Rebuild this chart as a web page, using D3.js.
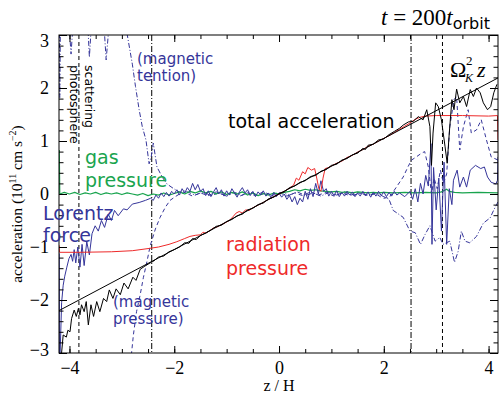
<!DOCTYPE html>
<html><head><meta charset="utf-8">
<script src="https://cdn.jsdelivr.net/npm/d3@7"></script>
<style>body{margin:0;background:#fff}svg{display:block}</style>
</head><body>
<svg id="c" width="499" height="393"></svg>
<script>
// ---------- data (z/H, acceleration in 1e11 cm s^-2) ----------
const xMajorTicks = [-4, -2, 0, 2, 4];
const yMajorTicks = [-3, -2, -1, 0, 1, 2, 3];
const photosphereZ = [-3.82, 3.12];   // scattering photosphere (dashed)
const tensionMarkZ = [-2.43, 2.52];   // dash-dot markers

const omegaLine = [[-4.2, -2.2], [4.18, 2.19]];

const totalAcc = [
[-4.16,-3.1],[-4.12,-2.66],[-4.06,-2.70],[-4.03,-2.57],[-3.99,-2.60],[-3.96,-2.35],[-3.91,-2.19],[-3.87,-2.31],[-3.83,-2.16],[-3.80,-2.28],[-3.77,-2.09],[-3.72,-2.22],[-3.68,-2.03],[-3.64,-2.47],[-3.59,-2.09],[-3.54,-2.31],[-3.48,-2.03],[-3.42,-2.22],[-3.35,-1.97],[-3.29,-2.03],[-3.24,-1.81],[-3.17,-1.97],[-3.11,-1.79],[-3.03,-1.90],[-2.96,-1.68],[-2.88,-1.79],[-2.79,-1.57],[-2.73,-1.63],[-2.65,-1.42],[-2.56,-1.36],[-2.46,-1.30],
[-2.4,-1.27],[-2.3,-1.19],[-2.2,-1.17],[-2.1,-1.09],[-2.0,-1.05],[-1.9,-1.0],[-1.8,-0.92],[-1.72,-0.93],[-1.65,-0.84],[-1.58,-0.86],[-1.5,-0.78],[-1.4,-0.74],[-1.3,-0.68],[-1.2,-0.61],[-1.1,-0.59],[-1.0,-0.52],[-0.9,-0.48],[-0.8,-0.41],[-0.7,-0.38],[-0.6,-0.30],[-0.5,-0.27],[-0.4,-0.2],[-0.3,-0.17],[-0.2,-0.09],[-0.1,-0.06],[0,0.01],[0.1,0.04],[0.2,0.12],[0.3,0.15],[0.4,0.22],[0.5,0.25],[0.6,0.33],[0.7,0.35],[0.8,0.43],[0.9,0.46],[1.0,0.54],[1.1,0.56],[1.2,0.64],[1.3,0.67],[1.4,0.74],[1.5,0.77],[1.6,0.86],[1.65,0.84],[1.7,0.92],[1.8,0.94],[1.9,1.02],[2.0,1.04],[2.1,1.12],[2.2,1.18],
[2.3,1.24],[2.37,1.3],[2.47,1.36],[2.56,1.37],[2.66,1.46],[2.75,1.40],[2.82,1.59],[2.88,1.27],[2.91,0.54],[2.94,1.15],[2.99,1.72],[3.04,1.65],[3.10,1.40],[3.17,0.89],[3.21,0.58],[3.25,1.15],[3.30,1.78],[3.34,1.59],[3.39,1.98],[3.45,1.72],[3.52,1.84],[3.58,1.65],[3.65,1.97],[3.71,1.84],[3.77,2.00],[3.84,1.91],[3.90,1.72],[3.98,1.59],[4.04,1.65],[4.10,1.91],[4.16,2.07]
];

const radiation = [
[-4.195,-0.97],[-4.19,-1.1],[-3.8,-1.1],[-3.2,-1.09],[-2.8,-1.07],[-2.5,-1.03],[-2.3,-1.0],[-2.1,-0.95],[-1.95,-0.9],[-1.8,-0.84],[-1.7,-0.8],[-1.6,-0.78],[-1.5,-0.77],[-1.45,-0.72],[-1.4,-0.74],[-1.32,-0.69],[-1.25,-0.64],[-1.18,-0.62],[-1.1,-0.58],[-1.02,-0.54],[-0.95,-0.5],[-0.88,-0.43],[-0.82,-0.36],[-0.76,-0.33],[-0.7,-0.36],[-0.64,-0.3],[-0.57,-0.31],[-0.5,-0.26],[-0.4,-0.21],[-0.3,-0.16],[-0.2,-0.1],[-0.1,-0.05],[0,0.0],[0.1,0.05],[0.2,0.11],[0.28,0.17],[0.33,0.3],[0.38,0.26],[0.45,0.42],[0.5,0.38],[0.55,0.5],[0.62,0.45],[0.68,0.48],[0.72,0.3],[0.76,0.1],[0.8,0.05],[0.84,0.3],[0.88,0.48],[0.95,0.5],[1.0,0.53],[1.1,0.58],[1.2,0.62],[1.3,0.69],[1.4,0.73],[1.5,0.79],[1.6,0.84],[1.7,0.9],[1.8,0.94],[1.9,1.0],[2.0,1.05],[2.1,1.1],[2.2,1.16],[2.3,1.22],[2.4,1.28],[2.5,1.34],[2.6,1.41],[2.7,1.45],[2.8,1.47],[3.0,1.48],[3.5,1.48],[4.0,1.47],[4.17,1.48],[4.18,1.02]
];

const gasPressure = [
[-4.195,0.83],[-4.185,0.0],[-4.1,0.03],[-4.0,0.0],[-3.9,0.03],[-3.8,-0.01],[-3.7,0.02],[-3.6,0.0],[-3.5,0.03],[-3.4,-0.01],[-3.3,0.02],[-3.2,0.0],[-3.1,0.02],[-3.0,-0.01],[-2.9,0.02],[-2.8,0.0],[-2.7,-0.02],[-2.6,0.01],[-2.5,-0.03],[-2.4,0.0],[-2.3,-0.02],[-2.2,0.02],[-2.1,-0.02],[-2.0,0.01],[-1.9,0.04],[-1.8,0.0],[-1.7,0.05],[-1.6,0.02],[-1.5,0.06],[-1.4,0.02],[-1.3,0.05],[-1.2,0.0],[-1.1,0.04],[-1.0,-0.01],[-0.9,0.03],[-0.8,0.0],[-0.7,0.04],[-0.6,-0.02],[-0.5,0.02],[-0.4,-0.03],[-0.3,0.01],[-0.2,-0.02],[-0.1,0.02],[0,0.0],[0.1,0.03],[0.2,0.05],[0.3,0.08],[0.4,0.06],[0.5,0.09],[0.6,0.07],[0.7,0.08],[0.8,0.06],[0.9,0.05],[1.0,0.04],[1.1,0.05],[1.2,0.03],[1.3,0.04],[1.4,0.02],[1.5,0.04],[1.6,0.03],[1.7,0.02],[1.8,0.03],[1.9,0.02],[2.0,0.03],[2.2,0.02],[2.4,0.03],[2.6,0.02],[2.8,0.03],[3.0,0.02],[3.1,0.04],[3.2,0.09],[3.25,0.05],[3.35,0.03],[3.5,0.02],[3.8,0.03],[4.18,0.02]
];

const lorentz = [
[-4.195,-1.12],[-4.19,-3.4],[-4.15,-2.05],[-4.12,-1.72],[-4.09,-1.55],[-4.05,-1.38],[-4.01,-1.22],[-3.97,-1.14],[-3.94,-1.27],[-3.91,-1.05],[-3.88,-1.3],[-3.84,-1.0],[-3.80,-1.38],[-3.76,-0.95],[-3.72,-1.35],[-3.67,-0.9],[-3.62,-1.15],[-3.57,-0.75],[-3.51,-0.6],[-3.45,-0.7],[-3.39,-0.5],[-3.33,-0.63],[-3.26,-0.38],[-3.2,-0.5],[-3.14,-0.31],[-3.07,-0.41],[-2.97,-0.28],[-2.9,-0.3],[-2.8,-0.19],[-2.67,-0.16],[-2.55,-0.12],
[-2.45,-0.08],[-2.4,-0.12],[-2.35,-0.02],[-2.3,-0.08],[-2.25,0.02],[-2.2,-0.05],[-2.15,0.03],[-2.1,-0.04],[-2.05,0.05],[-2.0,0.0],[-1.95,0.08],[-1.9,-0.02],[-1.85,0.1],[-1.8,0.02],[-1.75,0.12],[-1.7,0.05],[-1.65,0.2],[-1.6,0.08],[-1.55,0.18],[-1.5,0.05],[-1.45,0.1],[-1.4,-0.03],[-1.35,0.06],[-1.3,-0.05],[-1.25,0.04],[-1.2,0.12],[-1.15,0.0],[-1.1,0.08],[-1.05,-0.04],[-1.0,0.06],[-0.95,-0.02],[-0.9,0.1],[-0.85,0.02],[-0.8,-0.06],[-0.75,0.05],[-0.7,0.12],[-0.65,0.02],[-0.6,0.08],[-0.55,-0.03],[-0.5,0.05],[-0.45,-0.05],[-0.4,0.04],[-0.35,-0.02],[-0.3,0.06],[-0.25,-0.04],[-0.2,0.02],[-0.15,-0.08],[-0.1,0.03],[-0.05,-0.05],[0,0.02],[0.05,-0.06],[0.1,0.0],[0.15,-0.1],[0.2,-0.03],[0.25,-0.15],[0.3,-0.05],[0.35,-0.2],[0.4,-0.08],[0.45,-0.15],[0.5,0.05],[0.55,-0.1],[0.6,0.1],[0.65,-0.05],[0.7,0.2],[0.75,0.0],[0.8,0.25],[0.85,0.05],[0.9,0.1],[0.95,-0.04],[1.0,0.05],[1.05,-0.03],[1.1,0.06],[1.15,-0.05],[1.2,0.03],[1.25,-0.04],[1.3,0.05],[1.35,-0.02],[1.4,0.04],[1.45,-0.05],[1.5,0.02],[1.55,-0.04],[1.6,0.05],[1.65,-0.03],[1.7,0.04],[1.75,-0.06],[1.8,0.03],[1.85,-0.04],[1.9,0.05],[1.95,-0.03],[2.0,0.04],[2.05,-0.05],[2.1,0.03],[2.15,-0.04],[2.2,0.05],[2.25,-0.02],
[2.3,0.02],[2.4,-0.05],[2.5,0.05],[2.55,-0.1],[2.6,0.1],[2.65,-0.15],[2.7,0.2],[2.75,0.0],[2.8,0.35],[2.85,0.15],[2.9,0.95],[2.92,-0.95],[2.95,0.5],[3.0,-0.3],[3.05,0.3],[3.1,-0.7],[3.15,0.6],[3.2,-0.95],[3.25,0.1],[3.3,-0.2],[3.33,0.26],[3.4,0.45],[3.45,0.13],[3.52,0.32],[3.58,0.13],[3.65,0.45],[3.75,0.54],[3.85,0.48],[3.92,0.51],[3.98,0.32],[4.05,0.22],[4.14,0.19],[4.17,0.26],[4.18,0.7]
];

const magTension = [
[-4.195,3.6],[-4.185,1.82],[-4.17,3.6],[-4.05,3.8],[-3.97,2.64],[-3.9,3.7],[-3.68,3.8],[-3.62,2.58],[-3.55,3.7],[-3.38,3.8],[-3.3,2.53],[-3.2,3.7],[-2.95,3.6],[-2.9,3.02],[-2.80,2.45],[-2.74,2.03],[-2.67,1.59],[-2.61,1.27],[-2.54,1.02],[-2.48,0.57],[-2.44,0.70],[-2.40,0.96],[-2.33,0.51],[-2.23,0.32],[-2.14,0.19],[-2.01,0.1],[-1.89,0.03],[-1.8,0.06],[-1.7,0.02],
[-1.6,-0.02],[-1.45,0.04],[-1.3,-0.03],[-1.15,0.02],[-1.0,-0.04],[-0.85,0.03],[-0.7,-0.02],[-0.55,0.04],[-0.4,-0.03],[-0.25,0.02],[-0.1,-0.04],[0.05,0.03],[0.2,-0.02],[0.35,0.04],[0.5,-0.03],[0.65,0.02],[0.8,-0.04],[0.95,0.03],[1.1,-0.02],[1.25,0.04],[1.4,-0.03],[1.55,0.02],[1.7,-0.03],[1.85,0.02],
[2.0,-0.05],[2.1,-0.1],[2.18,-0.31],[2.37,-0.44],[2.5,-0.7],[2.6,-0.73],[2.7,-0.95],[2.79,-0.76],[2.88,-0.6],[2.98,-0.89],[3.07,-0.82],[3.13,-0.95],[3.26,-0.89],[3.35,-1.29],[3.42,-1.08],[3.48,-0.7],[3.55,-0.89],[3.64,-0.92],[3.77,-0.8],[3.9,-0.55],[4.03,-0.45],[4.1,-0.3],[4.18,-0.15]
];

const magPressure = [
[-4.2,-3.6],[-2.9,-3.6],[-2.82,-3.05],[-2.78,-2.66],[-2.72,-2.22],[-2.65,-1.9],[-2.59,-1.58],[-2.52,-1.27],[-2.46,-0.98],[-2.36,-0.66],[-2.27,-0.44],[-2.17,-0.25],[-2.08,-0.12],[-1.98,-0.05],[-1.9,0.0],
[-1.8,0.03],[-1.65,-0.04],[-1.5,0.02],[-1.35,-0.03],[-1.2,0.04],[-1.05,-0.02],[-0.9,0.03],[-0.75,-0.04],[-0.6,0.02],[-0.45,-0.03],[-0.3,0.04],[-0.15,-0.02],[0.0,0.03],[0.15,-0.04],[0.3,0.02],[0.45,-0.03],[0.6,0.04],[0.75,-0.02],[0.9,0.03],[1.05,-0.04],[1.2,0.02],[1.35,-0.03],[1.5,0.03],[1.65,-0.02],
[1.85,0.0],[1.95,-0.06],[2.0,-0.08],[2.11,-0.06],[2.24,0.13],[2.37,0.32],[2.46,0.51],[2.53,0.64],[2.62,0.70],[2.72,0.77],[2.78,0.8],[2.85,0.51],[2.91,0.0],[2.96,0.3],[3.02,0.1],[3.08,0.45],[3.14,0.2],[3.2,0.38],[3.26,1.27],[3.34,1.78],[3.39,1.84],[3.45,0.83],[3.52,1.27],[3.61,1.59],[3.67,1.15],[3.77,1.21],[3.86,1.4],[3.96,1.02],[4.05,0.7],[4.18,0.64]
];

// ---------- drawing ----------
const BLUE = "#35359a", RED = "#ee2a2a", GREEN = "#19a44e";
const svg = d3.select("#c");
const L = 59, R = 498, T = 35, B = 353;
const x = d3.scaleLinear().domain([-4.2, 4.18]).range([L, R]);
const y = d3.scaleLinear().domain([-3.0, 3.0]).range([B, T]);

svg.append("defs").append("clipPath").attr("id", "clip")
  .append("rect").attr("x", L).attr("y", T).attr("width", R - L).attr("height", B - T);

const plot = svg.append("g").attr("clip-path", "url(#clip)");
const line = d3.line().x(d => x(d[0])).y(d => y(d[1]));

// vertical marker lines
plot.selectAll(".ph").data(photosphereZ).join("line")
  .attr("x1", d => x(d)).attr("x2", d => x(d)).attr("y1", T).attr("y2", B)
  .attr("stroke", "#000").attr("stroke-width", 1).attr("stroke-dasharray", "4,3");
plot.selectAll(".tm").data(tensionMarkZ).join("line")
  .attr("x1", d => x(d)).attr("x2", d => x(d)).attr("y1", T).attr("y2", B)
  .attr("stroke", "#000").attr("stroke-width", 1).attr("stroke-dasharray", "6,2,1,2");

const series = [
  {d: magTension, c: BLUE, dash: "5,2,1,2", w: 1},
  {d: magPressure, c: BLUE, dash: "4,3", w: 1},
  {d: gasPressure, c: GREEN, dash: null, w: 1.2},
  {d: lorentz, c: BLUE, dash: null, w: 1},
  {d: radiation, c: RED, dash: null, w: 1},
  {d: omegaLine, c: "#000", dash: null, w: 1},
  {d: totalAcc, c: "#000", dash: null, w: 1}
];
series.forEach(s => {
  plot.append("path").datum(s.d).attr("d", line)
    .attr("fill", "none").attr("stroke", s.c).attr("stroke-width", s.w)
    .attr("stroke-linejoin", "round")
    .attr("stroke-dasharray", s.dash);
});

// axes
const fmt = d3.format("d");
const xMinor = d3.range(-4, 4.01, 0.5);
const yMinor = d3.range(-3, 3.01, 0.2).map(v => +v.toFixed(1));
const serif = "Liberation Serif, Times New Roman, serif";
const sans = "DejaVu Sans, Verdana, sans-serif";
const tickFont = g => g.selectAll("text").attr("font-family", serif).attr("font-size", 18).attr("fill", "#000");
const clean = g => { g.select(".domain").remove(); g.selectAll("line").attr("stroke", "#000"); };

svg.append("g").attr("transform", `translate(0,${B})`)
  .call(d3.axisBottom(x).tickValues(xMinor).tickSize(-4).tickFormat("")).call(clean);
svg.append("g").attr("transform", `translate(0,${B})`)
  .call(d3.axisBottom(x).tickValues(xMajorTicks).tickSize(-7).tickPadding(8).tickFormat(fmt)).call(clean).call(tickFont);
svg.append("g").attr("transform", `translate(0,${T})`)
  .call(d3.axisTop(x).tickValues(xMinor).tickSize(-4).tickFormat("")).call(clean);
svg.append("g").attr("transform", `translate(0,${T})`)
  .call(d3.axisTop(x).tickValues(xMajorTicks).tickSize(-7).tickFormat("")).call(clean);

svg.append("g").attr("transform", `translate(${L},0)`)
  .call(d3.axisLeft(y).tickValues(yMinor).tickSize(-4.5).tickFormat("")).call(clean);
const yAx = svg.append("g").attr("transform", `translate(${L},0)`)
  .call(d3.axisLeft(y).tickValues(yMajorTicks).tickSize(-8).tickPadding(10).tickFormat(fmt)).call(clean).call(tickFont);
// labels at the frame ends sit just inside the frame, as in the original
yAx.selectAll(".tick text").attr("dy", d => d === 3 ? "0.62em" : d === -3 ? "0.12em" : "0.33em");
svg.append("g").attr("transform", `translate(${R},0)`)
  .call(d3.axisRight(y).tickValues(yMinor).tickSize(-4.5).tickFormat("")).call(clean);
svg.append("g").attr("transform", `translate(${R},0)`)
  .call(d3.axisRight(y).tickValues(yMajorTicks).tickSize(-8).tickFormat("")).call(clean);

svg.append("rect").attr("x", L).attr("y", T).attr("width", R - L).attr("height", B - T)
  .attr("fill", "none").attr("stroke", "#000").attr("stroke-width", 1);

// axis titles
svg.append("text").attr("x", 279).attr("y", 391).attr("text-anchor", "middle")
  .attr("font-family", serif).attr("font-size", 16).text("z / H");
const yl = svg.append("text").attr("transform", "translate(22,204) rotate(-90)")
  .attr("text-anchor", "middle").attr("font-family", serif).attr("font-size", 15.5);
yl.append("tspan").text("acceleration (10");
yl.append("tspan").attr("font-size", 10).attr("dy", -6).text("11");
yl.append("tspan").attr("dy", 6).text(" cm s");
yl.append("tspan").attr("font-size", 10).attr("dy", -6).text("−2");
yl.append("tspan").attr("dy", 6).text(")");

// title
const tt = svg.append("text").attr("x", 490).attr("y", 25).attr("text-anchor", "end")
  .attr("font-family", serif).attr("font-size", 23);
tt.append("tspan").attr("font-style", "italic").text("t");
tt.append("tspan").text(" = 200");
tt.append("tspan").attr("font-style", "italic").text("t");
tt.append("tspan").attr("font-family", sans).attr("font-size", 16).attr("dy", 4).text("orbit");

// Omega_K^2 z
svg.append("text").attr("x", 450).attr("y", 77).attr("font-family", serif).attr("font-size", 22).text("Ω");
svg.append("text").attr("x", 466).attr("y", 65).attr("font-family", serif).attr("font-size", 13).text("2");
svg.append("text").attr("x", 465).attr("y", 82).attr("font-family", serif).attr("font-style", "italic").attr("font-size", 12).text("K");
svg.append("text").attr("x", 477).attr("y", 77).attr("font-family", serif).attr("font-style", "italic").attr("font-size", 22).text("z");

// labels
function label(lines, xx, yy, color, size, gap) {
  const t = svg.append("text").attr("font-family", sans).attr("font-size", size).attr("fill", color);
  lines.forEach((s, i) => t.append("tspan").attr("x", xx).attr("y", yy + i * gap).text(s));
}
label(["total acceleration"], 228, 128, "#000", 19, 0);
label(["gas", "pressure"], 85, 164, GREEN, 19, 23);
label(["Lorentz", "force"], 43, 220, BLUE, 19, 22);
label(["radiation", "pressure"], 226, 251, RED, 19, 24);
label(["(magnetic", "tention)"], 137, 64, BLUE, 15, 17);
label(["(magnetic", "pressure)"], 113, 307, BLUE, 15, 17);

const vt = svg.append("text").attr("transform", "translate(85,65) rotate(90)")
  .attr("font-family", sans).attr("font-size", 12.5).attr("fill", "#000");
vt.append("tspan").attr("x", 0).attr("y", 0).text("scattering");
vt.append("tspan").attr("x", 0).attr("y", 15).text("photosphere");
</script>
</body></html>
